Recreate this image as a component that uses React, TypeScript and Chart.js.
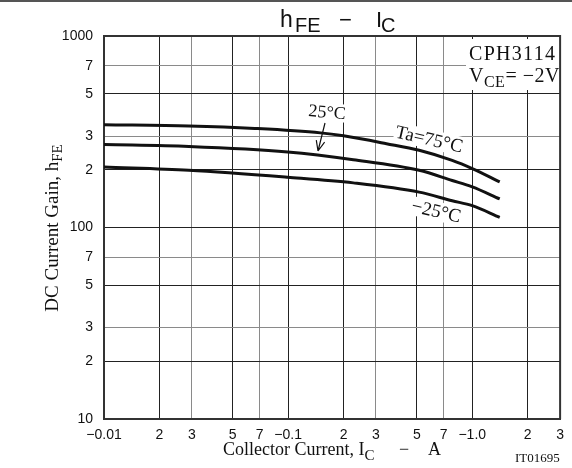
import React, { useEffect, useRef } from "react";
import { Chart, registerables } from "chart.js";
Chart.register(...registerables);

// Collector current magnitude (A) — axis labelled negative (PNP)
const currentTa75 = [0.01, 0.0289, 0.0659, 0.15, 0.2, 0.342, 0.515, 0.778, 1.0, 1.41];
const hfeTa75 = [344, 339, 329, 312, 301, 274, 253, 224, 203, 173];
const currentTa25 = [0.01, 0.0289, 0.0994, 0.226, 0.515, 0.778, 1.0, 1.41];
const hfeTa25 = [271, 265, 248, 226, 199, 176, 163, 141];
const currentTaM25 = [0.01, 0.0289, 0.0994, 0.226, 0.515, 0.778, 1.0, 1.41];
const hfeTaM25 = [207, 199, 183, 171, 153, 138, 130, 113];

const xTickValues = [0.01, 0.02, 0.03, 0.05, 0.07, 0.1, 0.2, 0.3, 0.5, 0.7, 1, 2, 3];
const xTickLabels = ["\u22120.01", "2", "3", "5", "7", "\u22120.1", "2", "3", "5", "7", "\u22121.0", "2", "3"];
const yTickValues = [10, 20, 30, 50, 70, 100, 200, 300, 500, 700, 1000];
const yTickLabels = ["10", "2", "3", "5", "7", "100", "2", "3", "5", "7", "1000"];

const SANS = "'Liberation Sans', Arial, sans-serif";
const SERIF = "'Liberation Serif', 'Times New Roman', serif";

const idx = (arr: number[], v: number) => arr.findIndex((t) => Math.abs(t - v) / t < 1e-6);

function rotText(ctx: CanvasRenderingContext2D, text: string, cx: number, cy: number, deg: number, size: number) {
  ctx.save();
  ctx.translate(cx, cy);
  ctx.rotate((deg * Math.PI) / 180);
  ctx.font = `${size}px ${SERIF}`;
  const w = ctx.measureText(text).width;
  ctx.fillStyle = "#fff";
  ctx.fillRect(-w / 2 - 1, -size * 0.55, w + 2, size * 1.0);
  ctx.fillStyle = "#111";
  ctx.textAlign = "center";
  ctx.textBaseline = "middle";
  ctx.fillText(text, 0, 0);
  ctx.restore();
}

const annotations = {
  id: "annotations",
  beforeDatasetsDraw(chart: any) {
    const ctx: CanvasRenderingContext2D = chart.ctx;
    ctx.save();
    // spec box
    ctx.fillStyle = "#fff";
    ctx.fillRect(466, 39, 96, 51);
    ctx.fillStyle = "#111";
    ctx.textBaseline = "alphabetic";
    (ctx as any).letterSpacing = "1.3px";
    ctx.font = `20px ${SERIF}`;
    ctx.fillText("CPH3114", 469, 60);
    (ctx as any).letterSpacing = "0.5px";
    let x = 469;
    ctx.fillText("V", x, 82);
    x += ctx.measureText("V").width;
    ctx.font = `16px ${SERIF}`;
    ctx.fillText("CE", x, 87);
    x += ctx.measureText("CE").width;
    ctx.font = `20px ${SERIF}`;
    ctx.fillText("= \u22122V", x, 82);
    (ctx as any).letterSpacing = "0px";

    rotText(ctx, "25\u00B0C", 327, 113, 5, 18);
    rotText(ctx, "Ta=75\u00B0C", 429, 140, 13, 19);
    rotText(ctx, "\u221225\u00B0C", 436, 212, 13, 19);

    // arrow
    const x0 = 325, y0 = 123, x1 = 318, y1 = 151;
    ctx.strokeStyle = "#111";
    ctx.lineWidth = 1.2;
    ctx.beginPath();
    ctx.moveTo(x0, y0);
    ctx.lineTo(x1, y1);
    const a = Math.atan2(y1 - y0, x1 - x0);
    const L = 11;
    ctx.moveTo(x1, y1);
    ctx.lineTo(x1 - L * Math.cos(a - 0.4), y1 - L * Math.sin(a - 0.4));
    ctx.moveTo(x1, y1);
    ctx.lineTo(x1 - L * Math.cos(a + 0.4), y1 - L * Math.sin(a + 0.4));
    ctx.stroke();
    ctx.restore();
  },
  afterDraw(chart: any) {
    const ctx: CanvasRenderingContext2D = chart.ctx;
    ctx.save();
    ctx.fillStyle = "#555";
    ctx.fillRect(0, 0, 572, 2);
    ctx.fillStyle = "#111";
    ctx.textBaseline = "alphabetic";
    // title
    ctx.font = `23px ${SANS}`;
    ctx.fillText("h", 280, 27);
    ctx.font = `20px ${SANS}`;
    ctx.fillText("FE", 295, 32);
    ctx.font = `22px ${SANS}`;
    ctx.fillText("\u2212", 339, 27);
    ctx.fillText("I", 376, 27);
    ctx.font = `20px ${SANS}`;
    ctx.fillText("C", 381, 32);

    // x title
    ctx.font = `18px ${SERIF}`;
    let x = 223;
    ctx.fillText("Collector Current, I", x, 455);
    x += ctx.measureText("Collector Current, I").width;
    ctx.font = `15px ${SERIF}`;
    ctx.fillText("C", x, 460);
    ctx.font = `18px ${SERIF}`;
    ctx.fillText("\u2212", 399, 455);
    ctx.fillText("A", 428, 455);

    ctx.font = `13px ${SERIF}`;
    ctx.fillText("IT01695", 515, 462);

    // y title
    ctx.save();
    ctx.translate(58, 228);
    ctx.rotate(-Math.PI / 2);
    ctx.font = `19px ${SERIF}`;
    const main = "DC Current Gain, h";
    const wm = ctx.measureText(main).width;
    ctx.font = `15px ${SERIF}`;
    const ws = ctx.measureText("FE").width;
    let sx = -(wm + ws) / 2;
    ctx.font = `19px ${SERIF}`;
    ctx.fillText(main, sx, 0);
    sx += wm;
    ctx.font = `15px ${SERIF}`;
    ctx.fillText("FE", sx, 4);
    ctx.restore();

    // top & right border
    const ca = chart.chartArea;
    ctx.strokeStyle = "#333";
    ctx.lineWidth = 2;
    ctx.beginPath();
    ctx.moveTo(ca.left, ca.top);
    ctx.lineTo(ca.right, ca.top);
    ctx.lineTo(ca.right, ca.bottom);
    ctx.stroke();
    ctx.restore();
  },
};

const gridColor = (v: number) => {
  const m = v / Math.pow(10, Math.floor(Math.log10(v) + 1e-9));
  return Math.abs(m - 3) < 1e-6 || Math.abs(m - 7) < 1e-6 ? "#8a8a8a" : "#222";
};

export default function App() {
  const ref = useRef<HTMLCanvasElement>(null);
  useEffect(() => {
    document.body.style.margin = "0";
    const mk = (xs: number[], ys: number[]) => xs.map((x, i) => ({ x, y: ys[i] }));
    const ds = (data: any) => ({
      data,
      borderColor: "#111",
      borderWidth: 3,
      pointRadius: 0,
      fill: false,
      cubicInterpolationMode: "monotone" as const,
    });
    const chart = new Chart(ref.current!, {
      type: "line",
      data: {
        datasets: [
          ds(mk(currentTa75, hfeTa75)),
          ds(mk(currentTa25, hfeTa25)),
          ds(mk(currentTaM25, hfeTaM25)),
        ],
      },
      options: {
        responsive: false,
        animation: false,
        layout: { padding: { top: 36, right: 6, left: 0, bottom: 0 } },
        plugins: { legend: { display: false }, tooltip: { enabled: false }, title: { display: false } },
        scales: {
          x: {
            type: "logarithmic",
            min: 0.01,
            max: 3,
            afterBuildTicks: (s: any) => {
              s.ticks = xTickValues.map((v) => ({ value: v }));
            },
            afterFit: (s: any) => {
              s.height = 49;
            },
            ticks: {
              autoSkip: false,
              maxRotation: 0,
              minRotation: 0,
              padding: 8,
              color: "#111",
              font: { family: SANS, size: 14 },
              callback: (v: any) => xTickLabels[idx(xTickValues, Number(v))] ?? "",
            },
            grid: {
              drawTicks: false,
              color: (c: any) => gridColor(c.tick.value),
              lineWidth: 1,
            },
            border: { color: "#333", width: 2 },
          },
          y: {
            type: "logarithmic",
            min: 10,
            max: 1000,
            afterBuildTicks: (s: any) => {
              s.ticks = yTickValues.map((v) => ({ value: v }));
            },
            afterFit: (s: any) => {
              s.width = 104;
            },
            ticks: {
              autoSkip: false,
              padding: 11,
              color: "#111",
              font: { family: SANS, size: 14 },
              callback: (v: any) => yTickLabels[idx(yTickValues, Number(v))] ?? "",
            },
            grid: {
              drawTicks: false,
              color: (c: any) => gridColor(c.tick.value),
              lineWidth: 1,
            },
            border: { color: "#333", width: 2 },
          },
        },
      },
      plugins: [annotations],
    });
    return () => chart.destroy();
  }, []);
  return (
    <div style={{ position: "absolute", left: 0, top: 0, width: 572, height: 468, background: "#fff" }}>
      <canvas ref={ref} width={572} height={468} style={{ display: "block" }} />
    </div>
  );
}
